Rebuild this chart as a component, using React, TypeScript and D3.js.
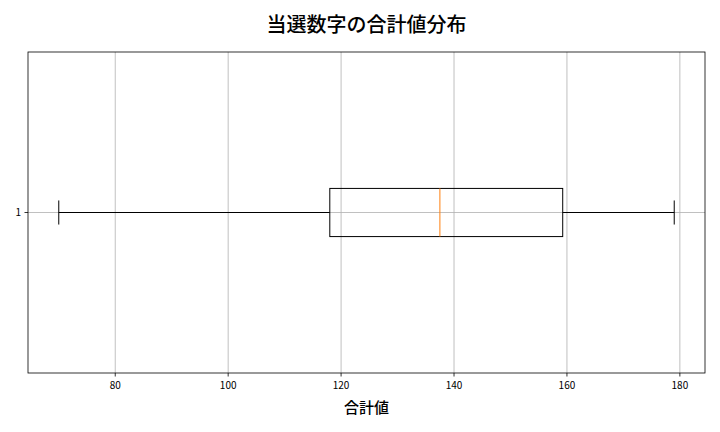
import * as d3 from 'd3';

// five-number summary of the drawn sum values
const categories = ['1'];
const whiskerLow = [70];
const q1Values = [118];
const medianValues = [137.5];
const q3Values = [159.25];
const whiskerHigh = [179];
const xTicks = [80, 100, 120, 140, 160, 180];

const W = 720;
const H = 432;
const margin = { top: 52, right: 15, bottom: 59, left: 28 };
const font = '"Noto Sans CJK JP", "Noto Sans", sans-serif';

export default function App() {
  const lo = d3.min(whiskerLow) ?? 0;
  const hi = d3.max(whiskerHigh) ?? 1;
  const pad = (hi - lo) * 0.05;

  const x = d3
    .scaleLinear()
    .domain([lo - pad, hi + pad])
    .range([margin.left, W - margin.right]);

  const y = d3
    .scaleLinear()
    .domain([0.5, categories.length + 0.5])
    .range([H - margin.bottom, margin.top]);

  const boxHalf = (y(0.5) - y(0.5 + 0.15)) / 2;
  const capHalf = boxHalf / 2;
  const plotW = W - margin.left - margin.right;
  const bottom = H - margin.bottom;

  return (
    <div style={{ position: 'absolute', left: 0, top: 0 }}>
      <svg width={W} height={H} style={{ display: 'block', background: '#fff' }}>
        {/* grid */}
        {xTicks.map((t) => (
          <line key={`gx${t}`} x1={x(t)} x2={x(t)} y1={margin.top} y2={bottom} stroke="#b0b0b0" strokeWidth={0.8} />
        ))}
        {categories.map((c, i) => (
          <line key={`gy${c}`} x1={margin.left} x2={W - margin.right} y1={y(i + 1)} y2={y(i + 1)} stroke="#b0b0b0" strokeWidth={0.8} />
        ))}

        {/* boxes */}
        {categories.map((c, i) => {
          const cy = y(i + 1);
          return (
            <g key={`b${c}`}>
              <line x1={x(whiskerLow[i])} x2={x(q1Values[i])} y1={cy} y2={cy} stroke="#000" strokeWidth={1} />
              <line x1={x(q3Values[i])} x2={x(whiskerHigh[i])} y1={cy} y2={cy} stroke="#000" strokeWidth={1} />
              <line x1={x(whiskerLow[i])} x2={x(whiskerLow[i])} y1={cy - capHalf} y2={cy + capHalf} stroke="#000" strokeWidth={1} />
              <line x1={x(whiskerHigh[i])} x2={x(whiskerHigh[i])} y1={cy - capHalf} y2={cy + capHalf} stroke="#000" strokeWidth={1} />
              <rect
                x={x(q1Values[i])}
                y={cy - boxHalf}
                width={x(q3Values[i]) - x(q1Values[i])}
                height={boxHalf * 2}
                fill="none"
                stroke="#000"
                strokeWidth={1}
              />
              <line x1={x(medianValues[i])} x2={x(medianValues[i])} y1={cy - boxHalf} y2={cy + boxHalf} stroke="#ff7f0e" strokeWidth={1} />
            </g>
          );
        })}

        {/* frame */}
        <rect x={margin.left} y={margin.top} width={plotW} height={bottom - margin.top} fill="none" stroke="#000" strokeWidth={0.8} />

        {/* x axis */}
        {xTicks.map((t) => (
          <g key={`tx${t}`}>
            <line x1={x(t)} x2={x(t)} y1={bottom} y2={bottom + 3.5} stroke="#000" strokeWidth={0.8} />
            <text x={x(t)} y={bottom + 16} textAnchor="middle" fontSize={10} fontFamily={font} fill="#000">
              {t}
            </text>
          </g>
        ))}

        {/* y axis */}
        {categories.map((c, i) => (
          <g key={`ty${c}`}>
            <line x1={margin.left - 3.5} x2={margin.left} y1={y(i + 1)} y2={y(i + 1)} stroke="#000" strokeWidth={0.8} />
            <text x={margin.left - 7} y={y(i + 1) + 3.5} textAnchor="end" fontSize={10} fontFamily={font} fill="#000">
              {c}
            </text>
          </g>
        ))}

        <text x={margin.left + plotW / 2} y={413} textAnchor="middle" fontSize={15} fontWeight={500} fontFamily={font} fill="#000">
          合計値
        </text>
        <text x={margin.left + plotW / 2} y={32} textAnchor="middle" fontSize={20} fontWeight={500} fontFamily={font} fill="#000">
          当選数字の合計値分布
        </text>
      </svg>
    </div>
  );
}
